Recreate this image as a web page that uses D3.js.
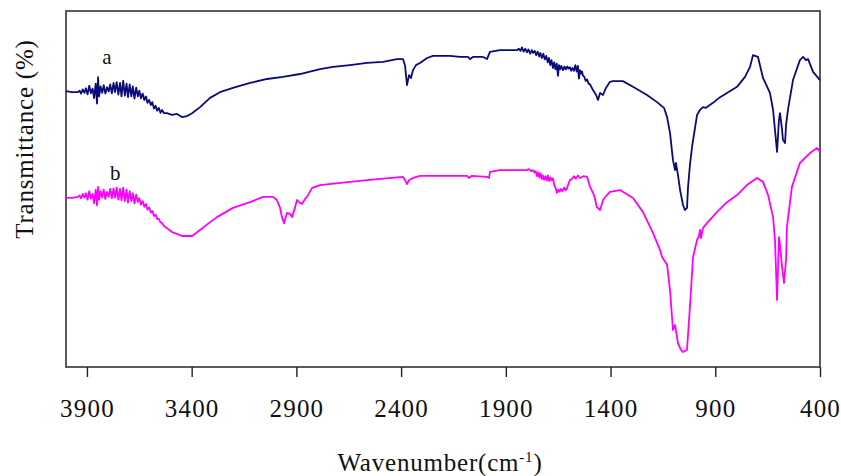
<!DOCTYPE html>
<html>
<head>
<meta charset="utf-8">
<script src="https://cdn.jsdelivr.net/npm/d3@7"></script>
<style>
  body { margin: 0; background: #fff; }
  svg text { font-family: "Liberation Serif", "Times New Roman", serif; fill: #111; }
</style>
</head>
<body>
<svg id="chart" width="841" height="476"></svg>
<script>
// Spectrum a (navy): [wavenumber cm-1, transmittance %]
const spectrumA = [
  [4000, 77.5], [3971, 77.2],
  [3943, 77.2], [3935, 77.6], [3928, 76.8], [3920, 78.0], [3912, 77.0], [3905, 78.3], [3897, 76.6], [3889, 79.0],
  [3881, 76.9], [3873, 78.2], [3866, 75.5], [3858, 79.6], [3852, 74.0], [3847, 81.4], [3842, 76.0], [3835, 78.8],
  [3827, 77.0], [3820, 79.2], [3812, 76.8], [3804, 78.6], [3796, 77.4], [3789, 79.4], [3781, 76.9], [3773, 79.8],
  [3766, 77.2], [3758, 80.0], [3750, 76.5], [3742, 79.8], [3735, 76.0], [3727, 80.4], [3719, 76.2], [3711, 79.6],
  [3704, 75.8], [3696, 79.4], [3688, 76.0], [3681, 78.8], [3673, 75.4], [3665, 78.5], [3657, 76.0], [3650, 77.6],
  [3642, 75.5], [3634, 76.8], [3626, 75.0], [3618, 76.0], [3611, 74.2], [3603, 75.0], [3595, 73.6], [3588, 74.4],
  [3580, 72.6], [3572, 73.4], [3565, 72.0], [3557, 72.8], [3549, 71.4], [3541, 72.2], [3532, 71.3],
  [3518, 71.3], [3494, 70.8], [3470, 71.1], [3446, 70.2], [3422, 70.5], [3398, 71.3], [3360, 73.0], [3312, 75.6],
  [3265, 77.2], [3203, 78.4], [3121, 79.8], [3040, 80.9], [2964, 81.5], [2883, 82.3], [2787, 83.7], [2725, 84.3],
  [2644, 84.8], [2563, 85.4], [2486, 85.7], [2420, 86.5], [2391, 86.5], [2381, 84.6], [2372, 79.2], [2362, 82.0],
  [2353, 81.2], [2343, 83.4], [2329, 84.8], [2310, 85.4], [2276, 86.8], [2248, 87.4], [2167, 87.4], [2119, 87.1],
  [2081, 87.1], [2071, 86.5], [2057, 87.1], [2009, 87.1], [1990, 86.5], [1976, 88.5], [1928, 89.0],
  [1847, 89.0], [1838, 89.4], [1830, 88.8], [1823, 89.8], [1815, 88.6], [1807, 89.4], [1799, 88.4], [1792, 89.2],
  [1784, 88.0], [1776, 89.0], [1770, 88.2], [1762, 88.8], [1755, 87.6], [1748, 88.6], [1741, 87.2], [1735, 88.2],
  [1728, 86.8], [1721, 88.0], [1714, 86.4], [1707, 87.4], [1700, 85.6], [1694, 86.8], [1688, 84.8], [1682, 86.2],
  [1675, 84.0], [1669, 85.6], [1663, 83.6], [1657, 85.2], [1651, 81.8], [1646, 84.8], [1641, 83.6], [1635, 84.6],
  [1627, 83.4], [1620, 84.4], [1613, 83.6], [1606, 84.4], [1600, 83.8], [1594, 84.2], [1588, 83.2], [1582, 84.0],
  [1575, 83.2], [1568, 84.8], [1562, 83.0], [1556, 84.6], [1551, 81.0], [1546, 83.4], [1541, 82.4], [1536, 83.0],
  [1532, 81.8], [1526, 81.6], [1519, 80.4], [1512, 80.8], [1505, 79.6], [1498, 79.4],
  [1484, 77.8], [1469, 76.4], [1460, 75.0], [1450, 77.0], [1436, 76.4], [1422, 78.4], [1403, 80.1], [1388, 80.3],
  [1341, 80.3], [1293, 78.7], [1226, 76.4], [1178, 74.4], [1145, 72.8], [1130, 70.2], [1116, 65.7], [1102, 58.1],
  [1092, 55.3], [1088, 57.3], [1078, 53.9], [1068, 49.7], [1054, 45.5], [1045, 44.1], [1035, 44.7], [1030, 50.6],
  [1021, 56.7], [1011, 61.8], [987, 70.8], [973, 72.2], [959, 73.0], [944, 72.8], [911, 74.2], [877, 75.8],
  [796, 78.7], [758, 81.5], [734, 84.3], [720, 87.6], [696, 87.1], [672, 81.2], [639, 77.0], [624, 72.2],
  [615, 66.6], [605, 60.4], [596, 69.4], [591, 71.3], [581, 66.6], [577, 63.8], [567, 62.9], [562, 68.0],
  [553, 72.2], [529, 80.6], [496, 86.2], [481, 87.1], [467, 86.2], [457, 86.5], [433, 82.9], [400, 80.6]
];

// Spectrum b (magenta)
const spectrumB = [
  [4000, 47.5], [3971, 47.5],
  [3943, 47.8], [3935, 48.2], [3928, 47.4], [3920, 48.6], [3912, 47.6], [3905, 48.8], [3897, 47.0], [3889, 49.4],
  [3881, 47.3], [3873, 48.6], [3866, 46.0], [3858, 49.8], [3852, 45.4], [3847, 50.6], [3842, 47.0], [3835, 49.4],
  [3827, 47.6], [3820, 49.8], [3812, 47.2], [3804, 49.2], [3796, 47.8], [3789, 50.0], [3781, 47.4], [3773, 50.2],
  [3766, 47.6], [3758, 50.4], [3750, 47.0], [3742, 50.0], [3735, 46.8], [3727, 50.4], [3719, 46.6], [3711, 49.8],
  [3704, 46.2], [3696, 49.4], [3688, 46.6], [3681, 48.8], [3673, 46.0], [3665, 48.4], [3657, 46.4], [3650, 47.4],
  [3642, 45.6], [3634, 46.6], [3626, 45.0], [3618, 45.8], [3611, 44.2], [3603, 44.8], [3595, 43.4], [3588, 43.8],
  [3580, 42.4], [3572, 42.8], [3565, 41.6], [3557, 41.6], [3549, 40.6], [3541, 40.4], [3532, 39.6],
  [3518, 39.0], [3494, 37.9], [3470, 37.4], [3446, 36.8], [3422, 36.8], [3398, 36.8], [3360, 38.5], [3312, 40.7],
  [3279, 42.1], [3203, 44.7], [3121, 46.3], [3059, 47.8], [3012, 47.8], [2993, 46.9], [2978, 44.7], [2969, 42.1],
  [2959, 40.4], [2945, 43.3], [2930, 43.0], [2921, 42.1], [2907, 44.7], [2897, 46.9], [2883, 46.1], [2873, 45.8],
  [2859, 47.2], [2849, 47.8], [2825, 50.3], [2787, 51.1], [2644, 52.0], [2563, 52.5], [2391, 53.4], [2381, 52.5],
  [2372, 51.4], [2362, 52.5], [2343, 53.1], [2310, 53.7], [2085, 53.7], [2076, 53.1], [2062, 53.7], [1990, 53.4],
  [1980, 53.1], [1976, 54.8], [1928, 55.3],
  [1800, 55.3], [1790, 55.6], [1778, 55.0], [1770, 55.3], [1763, 54.6], [1757, 55.0], [1751, 53.6], [1745, 54.6],
  [1740, 53.2], [1734, 54.4], [1728, 52.8], [1723, 53.8], [1717, 52.6], [1711, 53.6], [1705, 52.4], [1699, 53.8],
  [1693, 52.2], [1687, 53.2], [1681, 52.4], [1675, 53.0], [1668, 51.0], [1662, 50.2], [1656, 48.9], [1650, 49.8],
  [1644, 49.2], [1638, 50.0], [1630, 49.4], [1622, 50.4], [1615, 49.6], [1608, 50.2], [1600, 51.6], [1594, 52.5],
  [1585, 52.8], [1575, 53.6], [1566, 52.9], [1556, 53.8], [1546, 53.1], [1530, 53.6], [1512, 53.4],
  [1498, 50.6], [1479, 48.3], [1465, 44.9], [1450, 44.1], [1436, 46.9], [1417, 48.3], [1403, 49.2], [1355, 49.7],
  [1293, 47.5], [1245, 43.5], [1197, 37.6], [1164, 32.9], [1154, 30.9], [1130, 28.7], [1116, 21.6], [1102, 10.4],
  [1092, 11.8], [1078, 6.7], [1064, 4.8], [1054, 4.2], [1035, 4.8], [1021, 16.9], [1006, 30.9], [987, 35.7],
  [978, 36.8], [973, 38.5], [968, 36.2], [959, 39.0], [940, 40.4], [892, 43.5], [844, 46.3], [796, 48.3],
  [749, 51.1], [701, 53.1], [672, 52.0], [648, 48.3], [624, 42.1], [615, 35.7], [605, 18.8], [596, 36.5],
  [591, 34.3], [581, 28.1], [572, 23.6], [562, 30.1], [558, 39.3], [534, 50.6], [496, 57.3], [448, 60.1],
  [414, 61.5], [400, 60.4]
];

const xTicks = [3900, 3400, 2900, 2400, 1900, 1400, 900, 400];
const curveLabels = [
  { text: 'a', wave: 3805, trans: 85 },
  { text: 'b', wave: 3765, trans: 52.4 }
];

const svg = d3.select('#chart');
const plotL = 66, plotR = 820, plotT = 11, plotB = 367;

const x = d3.scaleLinear().domain([4000, 400]).range([plotL, plotR]);
const y = d3.scaleLinear().domain([0, 100]).range([plotB, plotT]);

// frame
svg.append('rect')
  .attr('x', plotL).attr('y', plotT)
  .attr('width', plotR - plotL).attr('height', plotB - plotT)
  .attr('fill', 'none').attr('stroke', '#333').attr('stroke-width', 1.6);

// bottom axis: ticks + labels only, the frame is the domain line
const xAxis = svg.append('g')
  .attr('transform', `translate(0,${plotB})`)
  .call(d3.axisBottom(x).tickValues(xTicks).tickFormat(d3.format('d'))
    .tickSize(10).tickSizeOuter(0).tickPadding(22));
xAxis.select('.domain').remove();
xAxis.selectAll('line').attr('stroke', '#222').attr('stroke-width', 1.4);
xAxis.selectAll('text')
  .attr('fill', '#111')
  .style('font-family', '"Liberation Serif", serif')
  .style('font-size', '25px')
  .style('letter-spacing', '1.2px');

const line = d3.line().x(d => x(d[0])).y(d => y(d[1]));

svg.append('path').datum(spectrumA)
  .attr('d', line).attr('fill', 'none')
  .attr('stroke', '#0a0a7a').attr('stroke-width', 1.8).attr('stroke-linejoin', 'round');
svg.append('path').datum(spectrumB)
  .attr('d', line).attr('fill', 'none')
  .attr('stroke', '#ff00ff').attr('stroke-width', 1.8).attr('stroke-linejoin', 'round');

// curve labels
svg.selectAll('text.curve').data(curveLabels).enter().append('text')
  .attr('class', 'curve')
  .attr('x', d => x(d.wave)).attr('y', d => y(d.trans))
  .attr('text-anchor', 'middle')
  .style('font-size', '21px')
  .text(d => d.text);

// axis titles
const xt = svg.append('text')
  .attr('x', (plotL + plotR) / 2 - 3).attr('y', 471)
  .attr('text-anchor', 'middle').style('font-size', '25px').style('letter-spacing', '0.8px');
xt.append('tspan').text('Wavenumber(cm');
xt.append('tspan').attr('dy', -9).style('font-size', '15px').text('-1');
xt.append('tspan').attr('dy', 9).text(')');

svg.append('text')
  .attr('transform', `translate(33,${(plotT + plotB) / 2 - 50}) rotate(-90)`)
  .attr('text-anchor', 'middle')
  .style('font-size', '25px').style('letter-spacing', '0.8px')
  .text('Transmittance (%)');
</script>
</body>
</html>
